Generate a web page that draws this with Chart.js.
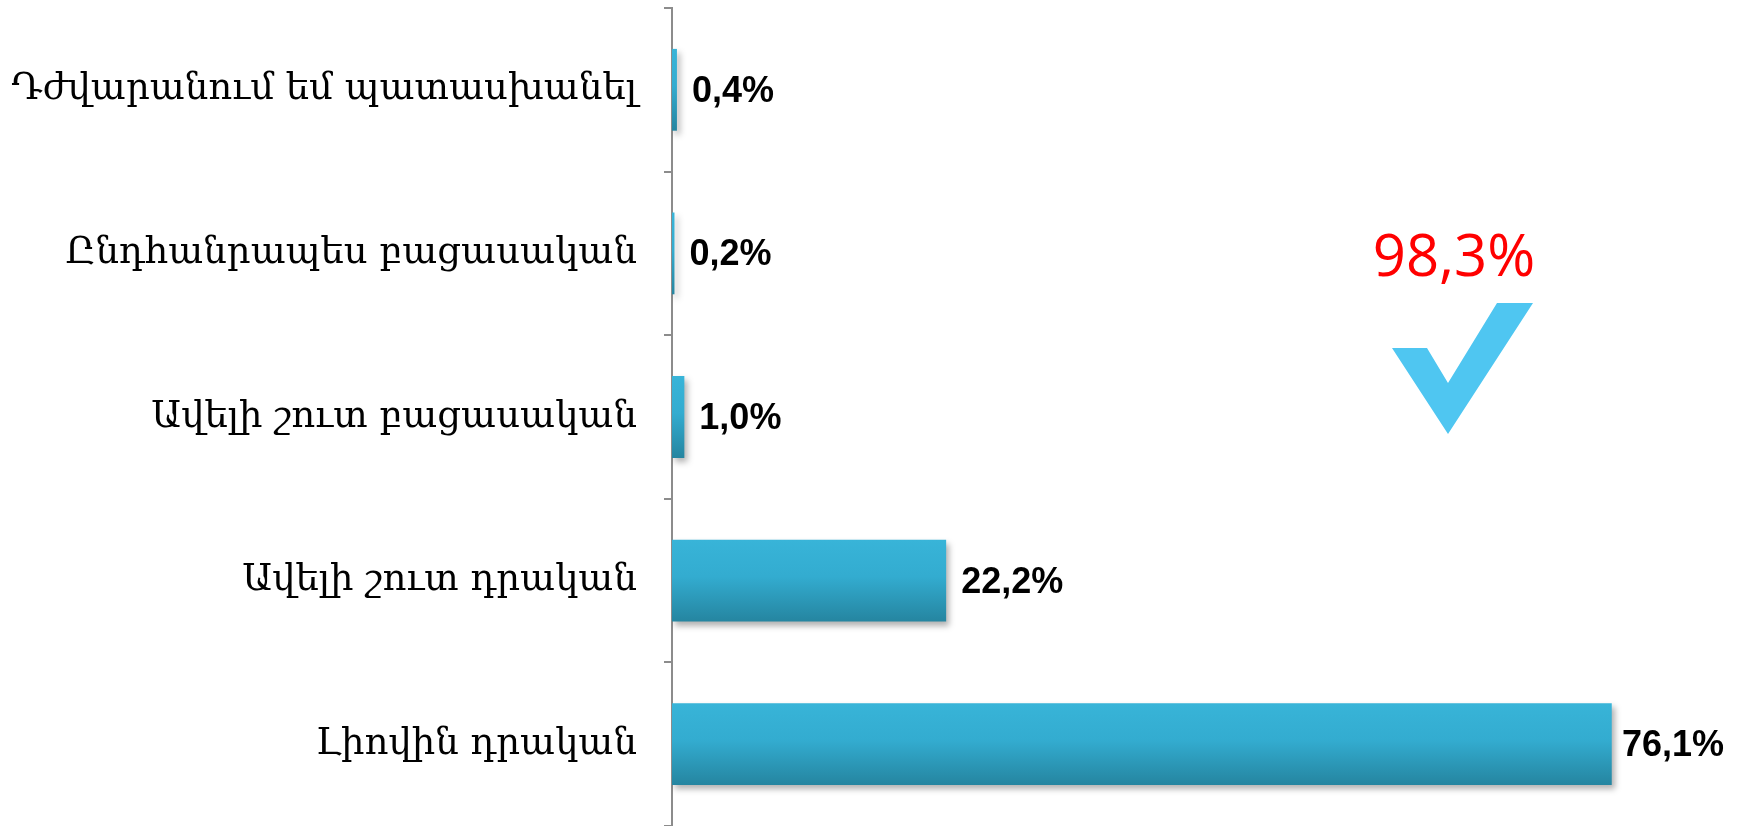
<!DOCTYPE html>
<html>
<head>
<meta charset="utf-8">
<script src="https://cdn.jsdelivr.net/npm/chart.js@4/dist/chart.umd.min.js"></script>
<style>
html,body{margin:0;padding:0;background:#fff;}
#wrap{width:1742px;height:826px;position:relative;}
</style>
</head>
<body>
<div id="wrap"><canvas id="c" width="1742" height="826"></canvas></div>
<script>
const categories = [
  "Դժվարանում եմ պատասխանել",
  "Ընդհանրապես բացասական",
  "Ավելի շուտ բացասական",
  "Ավելի շուտ դրական",
  "Լիովին դրական"
];
const values = [0.4, 0.2, 1.0, 22.2, 76.1];
const valueLabels = ["0,4%", "0,2%", "1,0%", "22,2%", "76,1%"];
const totalLabel = "98,3%";

const BAR_FRACTION = 0.5;

function barGradient(ctx) {
  const chart = ctx.chart;
  const y = chart.scales.y;
  if (!y || ctx.dataIndex === undefined) return '#34AFD3';
  const c = y.getPixelForValue(ctx.dataIndex);
  const band = (y.bottom - y.top) / categories.length;
  const h = band * BAR_FRACTION;
  if (!isFinite(c) || !isFinite(h) || h <= 0) return '#34AFD3';
  const g = chart.ctx.createLinearGradient(0, c - h / 2, 0, c + h / 2);
  g.addColorStop(0, '#38B4D8');
  g.addColorStop(0.45, '#33ACD0');
  g.addColorStop(1, '#2585A0');
  return g;
}

const shadowPlugin = {
  id: 'barShadow',
  beforeDatasetsDraw(chart) {
    const ctx = chart.ctx;
    ctx.save();
    ctx.shadowColor = 'rgba(0,0,0,0.3)';
    ctx.shadowBlur = 6;
    ctx.shadowOffsetX = 3;
    ctx.shadowOffsetY = 4;
  },
  afterDatasetsDraw(chart) {
    chart.ctx.restore();
  }
};

const labelPlugin = {
  id: 'valueLabels',
  afterDatasetsDraw(chart) {
    const ctx = chart.ctx;
    const meta = chart.getDatasetMeta(0);
    ctx.save();
    ctx.font = 'bold 36px "Liberation Sans", Arial, sans-serif';
    ctx.fillStyle = '#000';
    ctx.textBaseline = 'middle';
    ctx.textAlign = 'left';
    meta.data.forEach((bar, i) => {
      const txt = valueLabels[i];
      const w = ctx.measureText(txt).width;
      let x = bar.x + 15;
      if (x + w > chart.width - 18) x = chart.width - 18 - w;
      ctx.fillText(txt, x, bar.y + 2);
    });
    ctx.restore();
  }
};

const annotationPlugin = {
  id: 'checkAnnotation',
  afterDraw(chart) {
    const ctx = chart.ctx;
    ctx.save();
    ctx.font = '58px "Open Sans", "Noto Sans", sans-serif';
    ctx.fillStyle = '#FF0000';
    ctx.textAlign = 'center';
    ctx.textBaseline = 'alphabetic';
    ctx.fillText(totalLabel, 1454, 276);
    ctx.fillStyle = '#4FC6F1';
    ctx.beginPath();
    ctx.moveTo(1392, 348);
    ctx.lineTo(1427, 348);
    ctx.lineTo(1448, 383);
    ctx.lineTo(1497, 303);
    ctx.lineTo(1533, 303);
    ctx.lineTo(1448, 434);
    ctx.closePath();
    ctx.fill();
    ctx.restore();
  }
};

new Chart(document.getElementById('c'), {
  type: 'bar',
  data: {
    labels: categories,
    datasets: [{
      data: values,
      backgroundColor: barGradient,
      borderWidth: 0,
      categoryPercentage: 1,
      barPercentage: BAR_FRACTION
    }]
  },
  options: {
    indexAxis: 'y',
    responsive: false,
    animation: false,
    layout: { padding: { top: 8, right: 8, bottom: 0, left: 0 } },
    plugins: { legend: { display: false }, tooltip: { enabled: false } },
    scales: {
      x: { display: false, min: 0, max: 86 },
      y: {
        afterFit(s) { s.width = 672; s.paddingTop = 0; s.paddingBottom = 0; },
        border: { display: true, color: '#8C8C8C', width: 2 },
        grid: { offset: true, drawOnChartArea: false, drawTicks: true, tickLength: 8, color: '#8C8C8C', lineWidth: 2 },
        ticks: {
          padding: 27,
          color: '#000',
          font: { family: '"DejaVu Serif", serif', size: 37 }
        }
      }
    }
  },
  plugins: [shadowPlugin, labelPlugin, annotationPlugin]
});
</script>
</body>
</html>
